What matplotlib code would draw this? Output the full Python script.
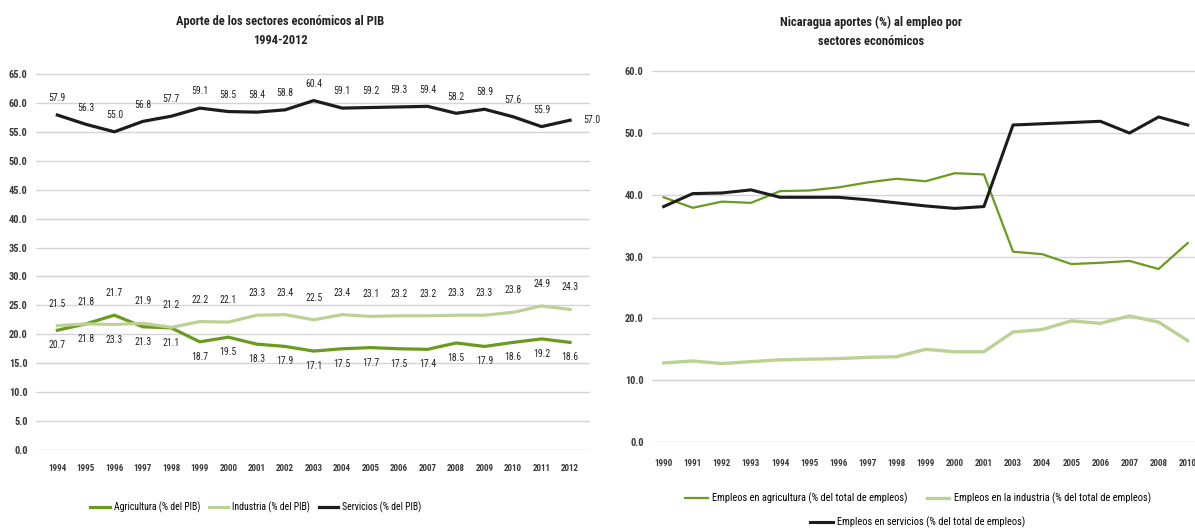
import matplotlib
matplotlib.use("Agg")
import matplotlib.pyplot as plt
from matplotlib import font_manager

#   Fuente (condensada si hay)
nombres = {f.name for f in font_manager.fontManager.ttflist}
fuente = "DejaVu Sans"
for n in ["Liberation Sans Narrow", "DejaVu Sans Condensed", "Roboto Condensed", "Roboto"]:
    if n in nombres:
        fuente = n
        break
plt.rcParams["font.family"] = [fuente, "DejaVu Sans"]

#   Datos: aporte al PIB
anios_pib = ["1994", "1995", "1996", "1997", "1998", "1999", "2000", "2001", "2002", "2003",
             "2004", "2005", "2006", "2007", "2008", "2009", "2010", "2011", "2012"]
agricultura = [20.7, 21.8, 23.3, 21.3, 21.1, 18.7, 19.5, 18.3, 17.9, 17.1,
               17.5, 17.7, 17.5, 17.4, 18.5, 17.9, 18.6, 19.2, 18.6]
industria = [21.5, 21.8, 21.7, 21.9, 21.2, 22.2, 22.1, 23.3, 23.4, 22.5,
             23.4, 23.1, 23.2, 23.2, 23.3, 23.3, 23.8, 24.9, 24.3]
servicios = [57.9, 56.3, 55.0, 56.8, 57.7, 59.1, 58.5, 58.4, 58.8, 60.4,
             59.1, 59.2, 59.3, 59.4, 58.2, 58.9, 57.6, 55.9, 57.0]

#   Datos: empleo
anios_emp = ["1990", "1991", "1992", "1993", "1994", "1995", "1996", "1997", "1998", "1999",
             "2000", "2001", "2003", "2004", "2005", "2006", "2007", "2008", "2010"]
emp_agri = [39.6, 37.9, 38.9, 38.7, 40.6, 40.7, 41.2, 42.0, 42.6, 42.2,
            43.5, 43.3, 30.8, 30.4, 28.8, 29.0, 29.3, 28.0, 32.2]
emp_ind = [12.8, 13.1, 12.7, 13.0, 13.3, 13.4, 13.5, 13.7, 13.8, 15.0,
           14.6, 14.6, 17.8, 18.2, 19.6, 19.2, 20.4, 19.4, 16.4]
emp_serv = [38.1, 40.2, 40.3, 40.8, 39.6, 39.6, 39.6, 39.2, 38.7, 38.2,
            37.8, 38.1, 51.3, 51.5, 51.7, 51.9, 50.0, 52.6, 51.3]

verde = "#6a9b1f"
verde_claro = "#bcd294"
negro = "#1c1c1c"
gris_txt = "#3a3a3a"

fig = plt.figure(figsize=(11.95, 5.29), dpi=100)
W, H = 1195, 529

def caja(x0, y0, x1, y1):
    return [x0 / W, 1 - y1 / H, (x1 - x0) / W, (y1 - y0) / H]

def estilo(ax, ticks):
    ax.set_yticks(ticks)
    ax.set_yticklabels([f"{t:.1f}" for t in ticks])
    ax.grid(axis="y", color="#d4d4d4", lw=1.0)
    ax.set_axisbelow(True)
    for s in ax.spines.values():
        s.set_visible(False)
    ax.tick_params(axis="both", length=0, colors=gris_txt)
    ax.tick_params(axis="y", labelsize=7.5, pad=6)
    ax.tick_params(axis="x", labelsize=6.5, pad=10)
    for t in ax.get_yticklabels() + ax.get_xticklabels():
        t.set_fontweight("bold")

# ---------- Izquierda ----------
ax1 = fig.add_axes(caja(36, 56.6, 590, 450))
x1 = range(len(anios_pib))
ax1.plot(x1, agricultura, color=verde, lw=2.3, label="Agricultura (% del PIB)")
ax1.plot(x1, industria, color=verde_claro, lw=2.3, label="Industria (% del PIB)")
ax1.plot(x1, servicios, color=negro, lw=2.3, label="Servicios (% del PIB)")
ax1.set_xlim(-0.75, 18.7)
ax1.set_ylim(0, 68)
ax1.set_xticks(list(x1))
ax1.set_xticklabels(anios_pib)
estilo(ax1, [i * 5.0 for i in range(14)])

for i in x1:
    arriba = max(agricultura[i], industria[i])
    abajo = min(agricultura[i], industria[i])
    ax1.text(i, arriba + 3.8, f"{industria[i]:.1f}", ha="center", va="center", fontsize=7, color="#222222")
    ax1.text(i, abajo - 2.6, f"{agricultura[i]:.1f}", ha="center", va="center", fontsize=7, color="#222222")
    if i == len(anios_pib) - 1:
        ax1.text(i + 0.45, servicios[i], f"{servicios[i]:.1f}", ha="left", va="center", fontsize=7, color="#222222")
    else:
        ax1.text(i, servicios[i] + 2.9, f"{servicios[i]:.1f}", ha="center", va="center", fontsize=7, color="#222222")

fig.text(280 / W, 1 - 15 / H, "Aporte de los sectores económicos al PIB\n1994-2012", ha="center", va="top",
         fontsize=9, fontweight="bold", color="#222222", linespacing=1.55)
fig.legend(handles=ax1.get_lines(), loc="center", bbox_to_anchor=(256 / W, 1 - 507 / H), ncol=3,
           frameon=False, fontsize=7, handlelength=2.0, handletextpad=0.4, columnspacing=0.9)

# ---------- Derecha ----------
ax2 = fig.add_axes(caja(652, 52.7, 1195, 442))
x2 = range(len(anios_emp))
l_agri, = ax2.plot(x2, emp_agri, color=verde, lw=1.6, label="Empleos en agricultura (% del total de empleos)")
l_ind, = ax2.plot(x2, emp_ind, color=verde_claro, lw=2.4, label="Empleos en la industria (% del total de empleos)")
l_serv, = ax2.plot(x2, emp_serv, color=negro, lw=2.2, label="Empleos en servicios (% del total de empleos)")
ax2.set_xlim(-0.4, 18.25)
ax2.set_ylim(0, 63)
ax2.set_xticks(list(x2))
ax2.set_xticklabels(anios_emp)
estilo(ax2, [i * 10.0 for i in range(7)])
ax2.tick_params(axis="x", pad=12)

fig.text(871 / W, 1 - 16 / H, "Nicaragua aportes (%) al empleo por\nsectores económicos", ha="center", va="top",
         fontsize=9, fontweight="bold", color="#222222", linespacing=1.55)
fig.legend(handles=[l_agri, l_ind], loc="center", bbox_to_anchor=(918 / W, 1 - 498 / H), ncol=2,
           frameon=False, fontsize=7.5, handlelength=2.2, handletextpad=0.4, columnspacing=1.8)
fig.legend(handles=[l_serv], loc="center", bbox_to_anchor=(918 / W, 1 - 522 / H), ncol=1,
           frameon=False, fontsize=7.5, handlelength=2.2, handletextpad=0.4)

fig.savefig("out.png", dpi=100, facecolor="white")
